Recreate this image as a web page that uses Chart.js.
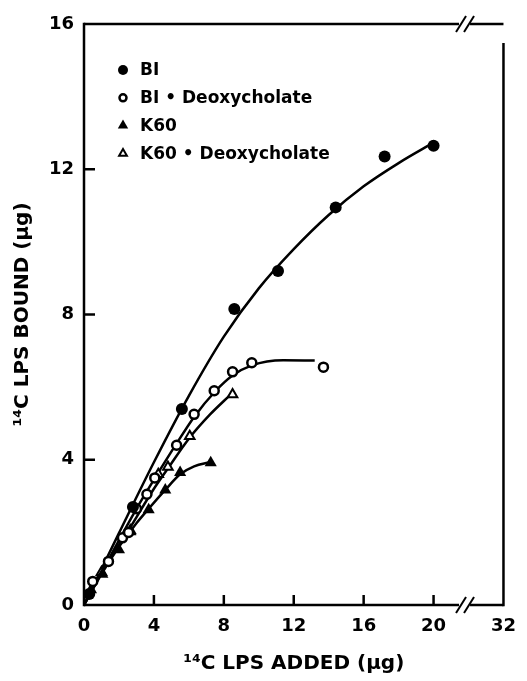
<!DOCTYPE html>
<html>
<head>
<meta charset="utf-8">
<script src="https://cdn.jsdelivr.net/npm/chart.js@4.4.0/dist/chart.umd.min.js"></script>
<style>
  html, body { margin: 0; padding: 0; background: #fff; }
</style>
</head>
<body>
<canvas id="mychart" width="527" height="681"></canvas>
<script>
// tick labels
const xTicks = [0, 4, 8, 12, 16, 20];
const xEnd = 24;          // right end of the broken axis
const xEndLabel = '32';
const xBreak = 21.8;      // where the // marks sit
const yTicks = [0, 4, 8, 12, 16];

// legend labels
const seriesNames = ['BI', 'BI \u2022 Deoxycholate', 'K60', 'K60 \u2022 Deoxycholate'];

// measured points (x = 14C LPS added, y = 14C LPS bound, ug)
const biX = [0.3, 2.8, 5.6, 8.6, 11.1, 14.4, 17.2, 20.0];
const biY = [0.3, 2.7, 5.4, 8.15, 9.2, 10.95, 12.35, 12.65];

const biDeoX = [0.5, 1.4, 2.2, 2.55, 3.0, 3.6, 4.05, 5.3, 6.3, 7.45, 8.5, 9.6, 13.7];
const biDeoY = [0.65, 1.2, 1.85, 2.0, 2.65, 3.05, 3.5, 4.4, 5.25, 5.9, 6.42, 6.67, 6.55];

const k60X = [0.4, 1.05, 2.0, 2.65, 3.7, 4.65, 5.5, 7.25];
const k60Y = [0.42, 0.85, 1.52, 2.02, 2.62, 3.17, 3.65, 3.92];

const k60DeoX = [1.0, 2.65, 4.25, 4.8, 6.05, 8.5];
const k60DeoY = [0.9, 2.05, 3.6, 3.8, 4.65, 5.8];

// hand-drawn fitted curves
const biFitX = [0, 2, 4, 6, 8, 10, 12, 14, 16, 18, 20.1];
const biFitY = [0, 1.98, 3.93, 5.76, 7.39, 8.72, 9.8, 10.74, 11.53, 12.17, 12.76];

const biDeoFitX = [0, 1.4, 3.0, 4.0, 5.3, 6.3, 7.5, 8.5, 9.6, 11.4, 13.2];
const biDeoFitY = [0, 1.25, 2.65, 3.45, 4.45, 5.18, 5.88, 6.32, 6.6, 6.74, 6.73];

const k60FitX = [0, 1.0, 2.0, 3.0, 3.7, 4.65, 5.5, 6.3, 7.25];
const k60FitY = [0, 0.85, 1.6, 2.25, 2.65, 3.17, 3.6, 3.82, 3.94];

const k60DeoFitX = [0, 1.0, 2.6, 4.0, 4.8, 6.0, 7.2, 8.4];
const k60DeoFitY = [0, 0.9, 2.1, 3.2, 3.76, 4.58, 5.24, 5.8];

const pts = (xs, ys) => xs.map((x, i) => ({ x: x, y: ys[i] }));

const markerStyles = [
  { pointStyle: 'circle', radius: 6, bg: '#000', bw: 0, legendR: 5 },
  { pointStyle: 'circle', radius: 4.5, bg: '#fff', bw: 2.5, legendR: 3.5 },
  { pointStyle: 'triangle', radius: 7, bg: '#000', bw: 0, legendR: 6 },
  { pointStyle: 'triangle', radius: 5.5, bg: '#fff', bw: 2, legendR: 4.5 }
];

const markerData = [pts(biX, biY), pts(biDeoX, biDeoY), pts(k60X, k60Y), pts(k60DeoX, k60DeoY)];
const fitData = [pts(biFitX, biFitY), pts(biDeoFitX, biDeoFitY), pts(k60FitX, k60FitY), pts(k60DeoFitX, k60DeoFitY)];

const datasets = [];
markerData.forEach((d, i) => {
  const m = markerStyles[i];
  datasets.push({
    label: seriesNames[i],
    data: d,
    showLine: false,
    pointStyle: m.pointStyle,
    pointRadius: m.radius,
    pointBackgroundColor: m.bg,
    pointBorderColor: '#000',
    pointBorderWidth: m.bw
  });
});
fitData.forEach((d, i) => {
  datasets.push({
    label: seriesNames[i] + ' fit',
    data: d,
    showLine: true,
    pointRadius: 0,
    borderColor: '#000',
    borderWidth: 2.5,
    cubicInterpolationMode: 'monotone',
    fill: false
  });
});

const fontFamily = '"DejaVu Sans", sans-serif';

// frame with axis breaks, inward ticks and the legend box
const framePlugin = {
  id: 'frame',
  afterDraw(chart) {
    const ctx = chart.ctx;
    const { left, right, top, bottom } = chart.chartArea;
    const xs = chart.scales.x;
    const ys = chart.scales.y;
    const bx = xs.getPixelForValue(xBreak);
    ctx.save();
    ctx.strokeStyle = '#000';
    ctx.lineWidth = 2.5;
    ctx.lineCap = 'butt';
    const line = (x1, y1, x2, y2) => {
      ctx.beginPath(); ctx.moveTo(x1, y1); ctx.lineTo(x2, y2); ctx.stroke();
    };
    line(left, top - 1.25, left, bottom + 1.25);
    line(left, bottom, bx - 6, bottom);
    line(bx + 5, bottom, right, bottom);
    line(left, top, bx - 6, top);
    line(bx + 5, top, right, top);
    line(right, top + 19, right, bottom + 1.25);
    // break marks
    ctx.lineWidth = 2;
    [bottom, top].forEach(y => {
      line(bx - 9, y + 8, bx + 1, y - 8);
      line(bx - 1, y + 8, bx + 9, y - 8);
    });
    // inward ticks
    ctx.lineWidth = 2.5;
    xTicks.slice(1).forEach(v => {
      const x = xs.getPixelForValue(v);
      line(x, bottom, x, bottom - 10);
    });
    yTicks.slice(1, -1).forEach(v => {
      const y = ys.getPixelForValue(v);
      line(left, y, left + 11, y);
    });
    // legend
    ctx.font = 'bold 17px ' + fontFamily;
    ctx.textBaseline = 'middle';
    seriesNames.forEach((name, i) => {
      const y = 70 + i * 27.8;
      const m = markerStyles[i];
      ctx.fillStyle = m.bg;
      ctx.strokeStyle = '#000';
      ctx.lineWidth = m.bw;
      Chart.helpers.drawPoint(ctx, {
        pointStyle: m.pointStyle,
        radius: m.legendR,
        borderWidth: m.bw,
        rotation: 0
      }, 123, y);
      ctx.fillStyle = '#000';
      ctx.fillText(name, 140, y + 1);
    });
    ctx.restore();
  }
};

new Chart(document.getElementById('mychart'), {
  type: 'scatter',
  data: { datasets: datasets },
  options: {
    responsive: false,
    animation: false,
    devicePixelRatio: 1,
    layout: { padding: { top: 24, right: 19, left: 0, bottom: 0 } },
    plugins: {
      legend: { display: false },
      tooltip: { enabled: false }
    },
    scales: {
      x: {
        type: 'linear',
        min: 0,
        max: xEnd,
        afterBuildTicks: (s) => {
          s.ticks = xTicks.concat([xEnd]).map(v => ({ value: v }));
        },
        afterFit: (s) => { s.height = 76; },
        grid: { display: false, drawTicks: false },
        border: { display: false },
        ticks: {
          autoSkip: false,
          maxRotation: 0,
          padding: 11,
          color: '#000',
          font: { family: fontFamily, size: 18, weight: 'bold' },
          callback: (v) => (v === xEnd ? xEndLabel : String(v))
        },
        title: {
          display: true,
          text: '\u00b9\u2074C LPS ADDED (\u03bcg)',
          color: '#000',
          font: { family: fontFamily, size: 20, weight: 'bold' },
          padding: { top: 0, bottom: 5 }
        }
      },
      y: {
        type: 'linear',
        min: 0,
        max: 16,
        afterBuildTicks: (s) => {
          s.ticks = yTicks.map(v => ({ value: v }));
        },
        afterFit: (s) => { s.width = 84; },
        grid: { display: false, drawTicks: false },
        border: { display: false },
        ticks: {
          padding: 10,
          color: '#000',
          font: { family: fontFamily, size: 18, weight: 'bold' }
        },
        title: {
          display: true,
          text: '\u00b9\u2074C LPS BOUND (\u03bcg)',
          color: '#000',
          font: { family: fontFamily, size: 20, weight: 'bold' },
          padding: { top: 11, bottom: 0 }
        }
      }
    }
  },
  plugins: [framePlugin]
});
</script>
</body>
</html>
